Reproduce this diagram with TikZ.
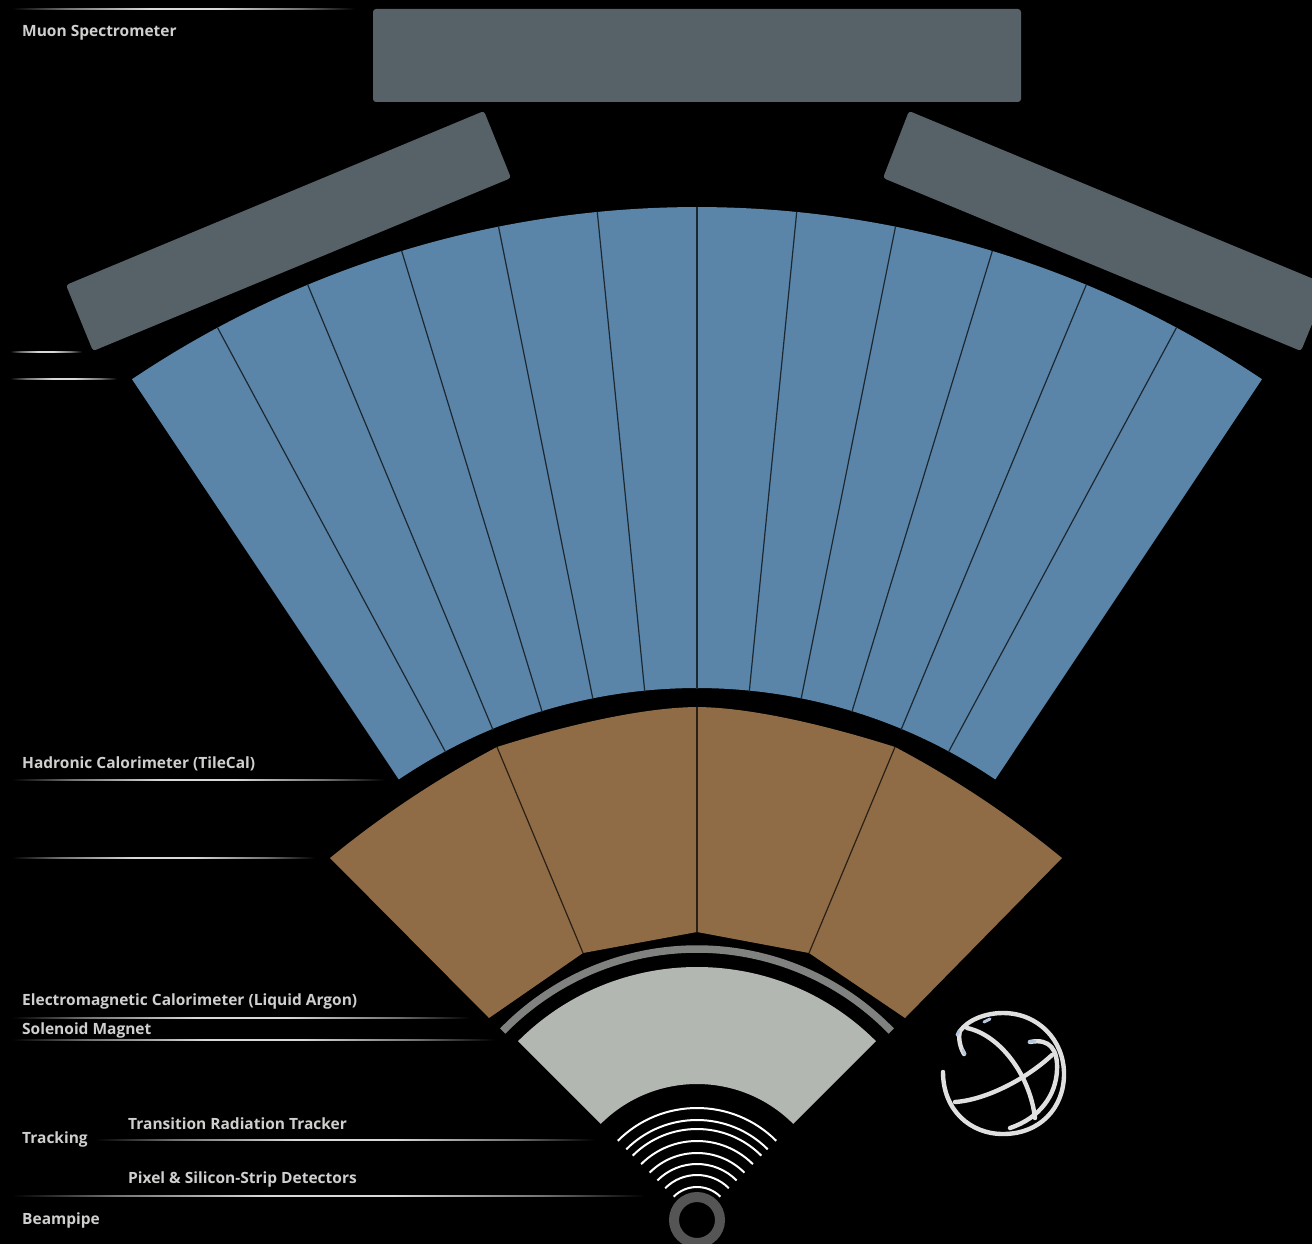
\documentclass[tikz,border=0pt]{standalone}
\usepackage{fontspec}
\setmainfont{Open Sans}
\definecolor{muon}{HTML}{566267}
\definecolor{tile}{HTML}{5B85A8}
\definecolor{argon}{HTML}{8F6C46}
\definecolor{tracker}{HTML}{B3B7B1}
\definecolor{magnet}{HTML}{808280}
\definecolor{pipe}{HTML}{555555}
\definecolor{labeltext}{HTML}{CFCFCD}
\definecolor{globetip}{HTML}{B4C6DC}
\pgfdeclarehorizontalshading{leader}{100bp}{color(0bp)=(black); color(25bp)=(black); color(33bp)=(black!55!white); color(45bp)=(black!15!white); color(55bp)=(black!15!white); color(67bp)=(black!55!white); color(75bp)=(black); color(100bp)=(black)}
\tikzset{
	label text/.style={text=labeltext, font=\bfseries\fontsize{15.5}{18}\selectfont, anchor=west, inner sep=0pt, yshift=-1.8pt},
	divider/.style={line width=1.2pt},
	globe/.style={white!88!black, line width=4.4pt, line cap=round},
}

\begin{document}
\begin{tikzpicture}[x=1pt,y=-1pt]
	\useasboundingbox (0,0) rectangle (1312,1244);
	\clip (0,0) rectangle (1312,1244);
	\fill[black] (0,0) rectangle (1312,1244);

	% muon chambers
	\fill[muon, rounded corners=3pt] (373,9) rectangle (1021,102);
	\fill[muon, rounded corners=3pt] (66,285) -- (484,111) -- (511,178) -- (93,351) -- cycle;
	\fill[muon, rounded corners=3pt] (1328,285) -- (909,111) -- (883,178) -- (1301,351) -- cycle;

	% fan, measured from the beam axis
	\begin{scope}[shift={(697,1220)},y=1pt]
		\fill[tile] (56.1:1013) arc[start angle=56.1,end angle=123.9,radius=1013]
			-- (124.1:532) arc[start angle=124.1,end angle=55.9,radius=532] -- cycle;
		\foreach \i in {-5,...,5}
			\draw[divider, black!70!tile] ({90+\i*5.65}:531) -- ({90+\i*5.65}:1013);
	\end{scope}

	\fill[argon] (330,858) .. controls (382,815.4) and (437.6,778.4) .. (497,747)
		.. controls (560,727) and (640,707.5) .. (697,707)
		.. controls (754,707.5) and (832,727) .. (895,747)
		.. controls (954.4,778.4) and (1010,815.4) .. (1062,858)
		-- (905,1018) -- (809,953) -- (697,932) -- (583,953) -- (489,1018) -- cycle;
	\draw[divider, black!70!argon] (497,747) -- (583,953);
	\draw[divider, black!70!argon] (697,707) -- (697,932);
	\draw[divider, black!70!argon] (895,747) -- (809,953);

	\begin{scope}[shift={(697,1220)},y=1pt]
		\draw[magnet, line width=7.5pt] (44.2:271) arc[start angle=44.2,end angle=135.8,radius=271];
		\fill[tracker] (45:253) arc[start angle=45,end angle=135,radius=253]
			-- (135:136) arc[start angle=135,end angle=45,radius=136] -- cycle;
		\foreach \r in {112,100,91,79,67,56,45,33}
			\draw[white, line width=2pt] (45:\r) arc[start angle=45,end angle=135,radius=\r];
	\end{scope}
	\draw[pipe, line width=10pt] (697,1220) circle(23);

	% leader lines
	\foreach \xa/\xb/\ya in {12/355/9,10/82/352,10/117/379,12/385/780,12/315/858,12/470/1018,12/495/1040,95/595/1140,12/645/1196}
		\shade[shading=leader] (\xa,\ya-0.9) rectangle (\xb,\ya+0.9);

	\node[label text] (muonlabel) at (22,31) {Muon Spectrometer};
	\node[label text] (tilelabel) at (22,762) {Hadronic Calorimeter (TileCal)};
	\node[label text] (argonlabel) at (22,1000) {Electromagnetic Calorimeter (Liquid Argon)};
	\node[label text] (magnetlabel) at (22,1029) {Solenoid Magnet};
	\node[label text] (trackinglabel) at (22,1138) {Tracking};
	\node[label text] (trtlabel) at (128,1122) {Transition Radiation Tracker};
	\node[label text] (pixellabel) at (128,1178) {Pixel \& Silicon-Strip Detectors};
	\node[label text] (pipelabel) at (22,1219) {Beampipe};

	% globe
	\draw[globe] (943,1072) .. controls (943,1110) and (970,1134) .. (1003,1134)
		.. controls (1040,1134) and (1064,1108) .. (1064,1074)
		.. controls (1064,1040) and (1038,1013) .. (1003,1013)
		.. controls (985,1013) and (968,1020) .. (960,1031)
		.. controls (958,1038) and (960,1047) .. (964,1054);
	\draw[globe] (967,1028) .. controls (1000,1035) and (1030,1075) .. (1035,1118);
	\draw[globe] (955,1102) .. controls (985,1100) and (1025,1080) .. (1052,1055);
	\draw[globe] (1030,1042) .. controls (1050,1038) and (1058,1050) .. (1057,1070)
		.. controls (1056,1095) and (1040,1118) .. (1010,1128);
	\draw[globetip, line width=3pt, line cap=round] (1029,1042) -- (1035,1041);
	\draw[globetip, line width=3pt, line cap=round] (963,1050) -- (965,1054);
	\draw[globetip, line width=3pt, line cap=round] (957,1035) -- (959,1031);
	\draw[globetip, line width=3pt, line cap=round] (984,1022) -- (990,1019);
\end{tikzpicture}
\end{document}
